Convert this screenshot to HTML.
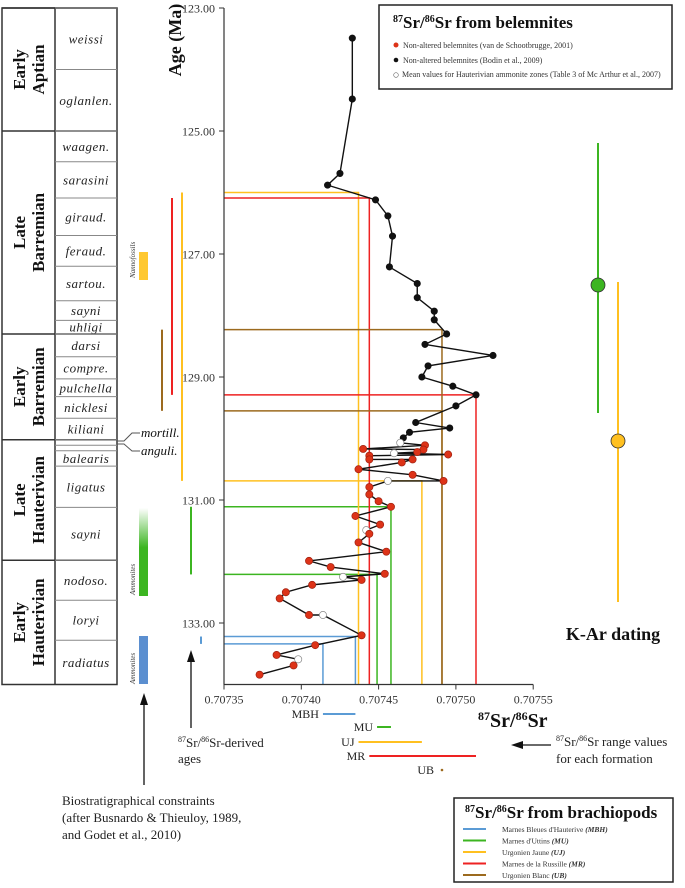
<!DOCTYPE html>
<html><head><meta charset="utf-8"><style>
body{margin:0;background:#fff;font-family:"Liberation Serif",serif;}
svg text{font-family:"Liberation Serif",serif;}
</style></head><body>
<svg id="fig" width="685" height="883" viewBox="0 0 685 883" xmlns="http://www.w3.org/2000/svg">
<g id="strat" stroke="#333" fill="none"></g>
<g id="bio"></g>
<g id="plot"></g>
<g id="ann"></g>
</svg>
<script>
// ---- data ----
const belemAges=[123.49,124.48,125.69,125.88,126.12,126.38,126.71,127.21,127.48,127.71,127.93,128.07,128.30,128.47,128.65,128.82,129.00,129.15,129.29,129.47,129.74,129.83,129.90,129.99,130.07,130.11,130.17,130.18,130.22,130.24,130.26,130.28,130.34,130.34,130.39,130.50,130.59,130.69,130.69,130.79,130.91,131.02,131.11,131.26,131.40,131.49,131.55,131.69,131.84,131.99,132.09,132.20,132.25,132.30,132.38,132.50,132.60,132.87,132.87,133.20,133.36,133.52,133.59,133.69,133.84];
const belemRatios=[0.707433,0.707433,0.707425,0.707417,0.707448,0.707456,0.707459,0.707457,0.707475,0.707475,0.707486,0.707486,0.707494,0.707480,0.707524,0.707482,0.707478,0.707498,0.707513,0.707500,0.707474,0.707496,0.707470,0.707466,0.707464,0.707480,0.707440,0.707479,0.707475,0.707460,0.707495,0.707444,0.707444,0.707472,0.707465,0.707437,0.707472,0.707492,0.707456,0.707444,0.707444,0.707450,0.707458,0.707435,0.707451,0.707442,0.707444,0.707437,0.707455,0.707405,0.707419,0.707454,0.707427,0.707439,0.707407,0.707390,0.707386,0.707405,0.707414,0.707439,0.707409,0.707384,0.707398,0.707395,0.707373];
const belemTypes="bbbbbbbbbbbbbbbbbbbbbbbbwrrrrwrrrrrrrrwrrrrrrwrrrrrrwrrrrrwrrrwrr";
const formNames=["MBH","MU","UJ","MR","UB"];
const formColors=["#5b9bd5","#3cb521","#ffc020","#ee2222","#9c6a1e"];
const formAges1=[133.22,131.11,126.00,126.09,128.23];
const formRatios1=[0.707435,0.707458,0.707437,0.707444,0.707491];
const formAges2=[133.34,132.21,130.69,129.29,129.55];
const formRatios2=[0.707414,0.707449,0.707478,0.707513,0.707491];
const yTicks=[123,125,127,129,131,133];
const xTicks=[0.70735,0.70740,0.70745,0.70750,0.70755];
const stages=[["Early","Aptian",123,125],["Late","Barremian",125,128.3],["Early","Barremian",128.3,130.02],["Late","Hauterivian",130.02,131.98],["Early","Hauterivian",131.98,134]];
const zones=[["weissi",123,124],["oglanlen.",124,125],["waagen.",125,125.5],["sarasini",125.5,126.09],["giraud.",126.09,126.7],["feraud.",126.7,127.2],["sartou.",127.2,127.76],["sayni",127.76,128.08],["uhligi",128.08,128.3],["darsi",128.3,128.67],["compre.",128.67,129.03],["pulchella",129.03,129.32],["nicklesi",129.32,129.67],["kiliani",129.67,130.02],["",130.02,130.11],["",130.11,130.2],["balearis",130.2,130.45],["ligatus",130.45,131.12],["sayni",131.12,131.98],["nodoso.",131.98,132.63],["loryi",132.63,133.28],["radiatus",133.28,134]];
// ---- scales ----
const X0=224,XK=77.3/0.00005,Y0=8,YK=61.5;
const sx=v=>X0+(v-0.70735)*XK;
const sy=a=>Y0+(a-123)*YK;
const NS="http://www.w3.org/2000/svg";
function mk(parent,tag,attrs,txt){const e=document.createElementNS(NS,tag);for(const k in attrs)e.setAttribute(k,attrs[k]);if(txt!==undefined)e.textContent=txt;parent.appendChild(e);return e;}
const strat=document.getElementById('strat'),plot=document.getElementById('plot'),bio=document.getElementById('bio'),ann=document.getElementById('ann');
const YB=sy(134);
// strat column
let r=mk(strat,'rect',{x:2,y:sy(123),width:115,height:YB-sy(123),'stroke-width':1.5});

mk(strat,'line',{x1:55,y1:sy(123),x2:55,y2:YB,'stroke-width':1.5});
stages.forEach(s=>{
  const y1=sy(s[2]),y2=sy(s[3]);
  mk(strat,'line',{x1:2,y1:y1,x2:117,y2:y1,'stroke-width':1.5});
  const cy=(y1+y2)/2;
  const t=mk(strat,'text',{transform:`translate(28,${cy}) rotate(-90)`,'text-anchor':'middle','font-size':17,'font-weight':'bold',fill:'#111',stroke:'none'});
  
  
  mk(t,'tspan',{x:0,y:-3},s[0]);mk(t,'tspan',{x:0,y:16},s[1]);
});
zones.forEach(z=>{
  const y1=sy(z[1]),y2=sy(z[2]);
  mk(strat,'line',{x1:55,y1:y1,x2:117,y2:y1,stroke:'#888','stroke-width':1});
  if(z[0]){const t=mk(strat,'text',{x:86,y:(y1+y2)/2+4.5,'text-anchor':'middle','font-size':13,'font-style':'italic',fill:'#222',stroke:'none','letter-spacing':'0.5'},z[0]);
  
  }
});
mk(strat,'path',{d:'M117 441 L124 441 L132 433 L140 433 M117 444 L124 444 L132 451 L140 451',stroke:'#555','stroke-width':1});
mk(ann,'text',{x:141,y:437,'font-size':13,'font-style':'italic',fill:'#111'},'mortill.');
mk(ann,'text',{x:141,y:455,'font-size':13,'font-style':'italic',fill:'#111'},'anguli.');
// biostrat boxes
mk(bio,'rect',{x:139,y:252,width:9,height:28,fill:'#ffc830'});
mk(bio,'text',{transform:'translate(135,278) rotate(-90)','font-size':7,'font-style':'italic',fill:'#333'},'Nannofossils');
const defs=mk(document.getElementById('fig'),'defs',{});
const lg=mk(defs,'linearGradient',{id:'gg',x1:0,y1:0,x2:0,y2:1});
mk(lg,'stop',{offset:'0','stop-color':'#fff'});mk(lg,'stop',{offset:'0.45','stop-color':'#3cb521'});mk(lg,'stop',{offset:'1','stop-color':'#3cb521'});
mk(bio,'rect',{x:139,y:508,width:9,height:88,fill:'url(#gg)'});
mk(bio,'text',{transform:'translate(135,595) rotate(-90)','font-size':7,'font-style':'italic',fill:'#333'},'Ammonites');
mk(bio,'rect',{x:139,y:636,width:9,height:48,fill:'#5b8fd0'});
mk(bio,'text',{transform:'translate(135,684) rotate(-90)','font-size':7,'font-style':'italic',fill:'#333'},'Ammonites');
// derived age bars (left of axis)
const derivedX=[201,191,182,172,162];
formNames.forEach((n,i)=>{
  const a1=Math.min(formAges1[i],formAges2[i]),a2=Math.max(formAges1[i],formAges2[i]);
  const l=mk(bio,'line',{x1:derivedX[i],x2:derivedX[i],y1:sy(a1),y2:sy(a2),stroke:formColors[i],'stroke-width':2});
  
  
});
// formation lines in plot
formNames.forEach((n,i)=>{
  [[formAges1[i],formRatios1[i]],[formAges2[i],formRatios2[i]]].forEach(p=>{
    const pl=mk(plot,'polyline',{points:`${X0},${sy(p[0])} ${sx(p[1])},${sy(p[0])} ${sx(p[1])},${YB}`,fill:'none',stroke:formColors[i],'stroke-width':1.5});
    
    
  });
});
// axes
mk(plot,'line',{x1:X0,y1:Y0,x2:X0,y2:YB,stroke:'#333','stroke-width':1.2});
mk(plot,'line',{x1:X0,y1:YB,x2:sx(0.70755),y2:YB,stroke:'#333','stroke-width':1.2});
yTicks.forEach(t=>{const y=sy(t);mk(plot,'line',{x1:X0-5,x2:X0,y1:y,y2:y,stroke:'#333'});
  const tx=mk(plot,'text',{x:X0-9,y:y+4.5,'text-anchor':'end','font-size':12,fill:'#333'},t.toFixed(2));
  
  });
xTicks.forEach(t=>{const x=sx(t);mk(plot,'line',{x1:x,x2:x,y1:YB,y2:YB+5,stroke:'#333'});
  const tx=mk(plot,'text',{x:x,y:YB+19,'text-anchor':'middle','font-size':12,fill:'#333'},t.toFixed(5));
  
  });
const yt=mk(plot,'text',{transform:'translate(181,40) rotate(-90)','text-anchor':'middle','font-size':18,'font-weight':'bold',fill:'#111'},'Age (Ma)');

// belemnite series
let pts=belemAges.map((a,i)=>`${sx(belemRatios[i])},${sy(a)}`).join(' ');
const ln=mk(plot,'polyline',{points:pts,fill:'none',stroke:'#111','stroke-width':1.4});

belemAges.forEach((a,i)=>{
  const t=belemTypes[i];
  const c=mk(plot,'circle',{cx:sx(belemRatios[i]),cy:sy(a),r:t==='b'?3.2:3.6,fill:t==='b'?'#111':t==='r'?'#dd3318':'#fff',stroke:t==='w'?'#888':t==='r'?'#a02010':'#111','stroke-width':0.7});
  
  
});
// range bars below axis
const rangeY=[714,727,742,756,770];
const rangeLabelX=[-4,-4,-4,-4,-8];
formNames.forEach((n,i)=>{
  const lo=Math.min(formRatios1[i],formRatios2[i]),hi=Math.max(formRatios1[i],formRatios2[i]);
  const y=rangeY[i];
  if(hi>lo){const l=mk(plot,'line',{x1:sx(lo),x2:sx(hi),y1:y,y2:y,stroke:formColors[i],'stroke-width':2});
    }
  else{const c=mk(plot,'circle',{cx:sx(lo),cy:y,r:1.3,fill:formColors[i]});
    }
  mk(plot,'text',{x:sx(lo)+rangeLabelX[i],y:y+4,'text-anchor':'end','font-size':12,fill:'#222'},n);
});
const xt=mk(plot,'text',{x:478,y:727,'font-size':20,'font-weight':'bold',fill:'#111'});

xt.innerHTML='<tspan font-size="12" dy="-7">87</tspan><tspan dy="7">Sr/</tspan><tspan font-size="12" dy="-7">86</tspan><tspan dy="7">Sr</tspan>';
</script>
<script>
// static annotations
(function(){
const NS="http://www.w3.org/2000/svg",ann=document.getElementById('ann');
function mk(tag,attrs,html){const e=document.createElementNS(NS,tag);for(const k in attrs)e.setAttribute(k,attrs[k]);if(html!==undefined)e.innerHTML=html;ann.appendChild(e);return e;}
// legend 1
let g=mk('g',{});
g.innerHTML='<rect x="379" y="5" width="293" height="84" fill="#fff" stroke="#222" stroke-width="1.5"/>'+
'<text x="393" y="28" font-size="17" font-weight="bold" fill="#111"><tspan font-size="10" dy="-6">87</tspan><tspan dy="6">Sr/</tspan><tspan font-size="10" dy="-6">86</tspan><tspan dy="6">Sr from belemnites</tspan></text>'+
'<circle cx="396" cy="45" r="2.5" fill="#dd3318"/><text x="403" y="48" font-size="8" fill="#333">Non-altered belemnites (van de Schootbrugge, 2001)</text>'+
'<circle cx="396" cy="60" r="2.3" fill="#111"/><text x="403" y="63" font-size="8" fill="#333">Non-altered belemnites (Bodin et al., 2009)</text>'+
'<circle cx="396" cy="75" r="2.3" fill="#fff" stroke="#666" stroke-width="0.6"/><text x="402" y="77" font-size="8" fill="#333">Mean values for Hauterivian ammonite zones (Table 3 of Mc Arthur et al., 2007)</text>';
ann.appendChild(g);
// legend 2
g=document.createElementNS(NS,'g');
const cols=['#5b9bd5','#3cb521','#ffc020','#ee2222','#9c6a1e'];
const labs=['Marnes Bleues d\'Hauterive <tspan font-style="italic" font-weight="bold">(MBH)</tspan>','Marnes d\'Uttins <tspan font-style="italic" font-weight="bold">(MU)</tspan>','Urgonien Jaune <tspan font-style="italic" font-weight="bold">(UJ)</tspan>','Marnes de la Russille <tspan font-style="italic" font-weight="bold">(MR)</tspan>','Urgonien Blanc <tspan font-style="italic" font-weight="bold">(UB)</tspan>'];
let h='<rect x="454" y="798" width="219" height="84" fill="#fff" stroke="#222" stroke-width="1.5"/>'+
'<text x="465" y="818" font-size="17" font-weight="bold" fill="#111"><tspan font-size="10" dy="-6">87</tspan><tspan dy="6">Sr/</tspan><tspan font-size="10" dy="-6">86</tspan><tspan dy="6">Sr from brachiopods</tspan></text>';
cols.forEach((c,i)=>{const y=829+i*11.5;h+=`<line x1="463" x2="486" y1="${y}" y2="${y}" stroke="${c}" stroke-width="2"/><text x="502" y="${y+3}" font-size="7.5" fill="#333">${labs[i]}</text>`;});
g.innerHTML=h;ann.appendChild(g);
// K-Ar
g=document.createElementNS(NS,'g');
g.innerHTML='<line x1="598" x2="598" y1="143" y2="413" stroke="#3cb521" stroke-width="2"/><circle cx="598" cy="285" r="7" fill="#3cb521" stroke="#333" stroke-width="0.8"/>'+
'<line x1="618" x2="618" y1="282" y2="602" stroke="#ffc020" stroke-width="2"/><circle cx="618" cy="441" r="7" fill="#ffc020" stroke="#333" stroke-width="0.8"/>'+
'<text x="613" y="640" text-anchor="middle" font-size="18" font-weight="bold" fill="#111">K-Ar dating</text>';
ann.appendChild(g);
// arrows and notes
g=document.createElementNS(NS,'g');
g.innerHTML='<line x1="144" y1="785" x2="144" y2="700" stroke="#111" stroke-width="1.3"/><path d="M144 693 L140 705 L148 705 Z" fill="#111"/>'+
'<line x1="191" y1="728" x2="191" y2="657" stroke="#111" stroke-width="1.3"/><path d="M191 650 L187 662 L195 662 Z" fill="#111"/>'+
'<text x="178" y="747" font-size="13" fill="#222"><tspan font-size="8" dy="-5">87</tspan><tspan dy="5">Sr/</tspan><tspan font-size="8" dy="-5">86</tspan><tspan dy="5">Sr-derived</tspan></text><text x="178" y="763" font-size="13" fill="#222">ages</text>'+
'<text x="62" y="805" font-size="13" fill="#222">Biostratigraphical constraints</text><text x="62" y="822" font-size="13" fill="#222">(after Busnardo &amp; Thieuloy, 1989,</text><text x="62" y="839" font-size="13" fill="#222">and Godet et al., 2010)</text>'+
'<line x1="551" y1="745" x2="518" y2="745" stroke="#111" stroke-width="1.3"/><path d="M511 745 L523 741 L523 749 Z" fill="#111"/>'+
'<text x="556" y="746" font-size="13" fill="#222"><tspan font-size="8" dy="-5">87</tspan><tspan dy="5">Sr/</tspan><tspan font-size="8" dy="-5">86</tspan><tspan dy="5">Sr range values</tspan></text><text x="556" y="763" font-size="13" fill="#222">for each formation</text>';
ann.appendChild(g);
})();
</script>
</body></html>
